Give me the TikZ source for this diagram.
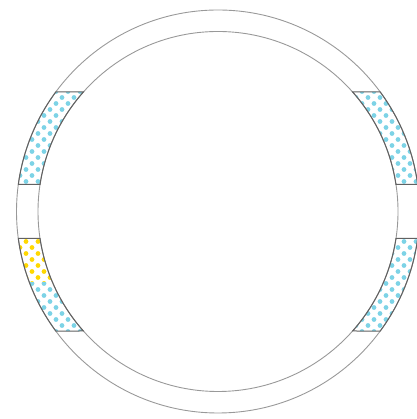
\documentclass[tikz,border=0pt]{standalone}
\definecolor{dotcyan}{HTML}{7DD3E6}
\definecolor{dotyellow}{HTML}{FFD800}
\begin{document}
\begin{tikzpicture}[x=1pt,y=1pt]
\tikzset{
  ring/.style={draw=black!40, line width=0.9pt},
  bandedge/.style={draw=black!62, line width=1pt},
}
\useasboundingbox (0,0) rectangle (416,419);
\newcommand\bandpath[4]{(#1:201.5) arc[start angle=#1,end angle=#2,radius=201.5] -- (#4:180) arc[start angle=#4,end angle=#3,radius=180] -- cycle}
\newcommand\dotgrid[3]{%
  \foreach \yy in {#2} {\foreach \xx in {#1} {
    \fill[#3] (\xx,\yy) circle (2.4);
    \fill[#3] (\xx+6,\yy+6) circle (2.4);}}}
\begin{scope}[shift={(218,207.5)}]
  % upper left
  \begin{scope}
    \clip \bandpath{143.62}{172.30}{138.40}{171.37};
    \dotgrid{-210,-198,...,-120}{12,24,...,132}{dotcyan}
  \end{scope}
  % lower left
  \begin{scope}
    \clip \bandpath{187.70}{216.38}{188.63}{221.60};
    \begin{scope}
      \clip (-230,-71.5) rectangle (-100,0);
      \dotgrid{-210,-198,...,-120}{-132,-120,...,0}{dotyellow}
    \end{scope}
    \begin{scope}
      \clip (-230,-140) rectangle (-100,-71.5);
      \dotgrid{-210,-198,...,-120}{-132,-120,...,0}{dotcyan}
    \end{scope}
  \end{scope}
  % upper right
  \begin{scope}
    \clip \bandpath{7.70}{36.38}{8.63}{41.60};
    \dotgrid{120,132,...,210}{12,24,...,132}{dotcyan}
  \end{scope}
  % lower right
  \begin{scope}
    \clip \bandpath{-36.38}{-7.70}{-41.60}{-8.63};
    \dotgrid{120,132,...,210}{-132,-120,...,0}{dotcyan}
  \end{scope}
  % rings
  \draw[ring] (0,0) circle (201.5);
  \draw[ring] (0,0) circle (180);
  % band outlines
  \draw[bandedge] \bandpath{143.62}{172.30}{138.40}{171.37};
  \draw[bandedge] \bandpath{187.70}{216.38}{188.63}{221.60};
  \draw[bandedge] \bandpath{7.70}{36.38}{8.63}{41.60};
  \draw[bandedge] \bandpath{-36.38}{-7.70}{-41.60}{-8.63};
\end{scope}
\end{tikzpicture}
\end{document}
